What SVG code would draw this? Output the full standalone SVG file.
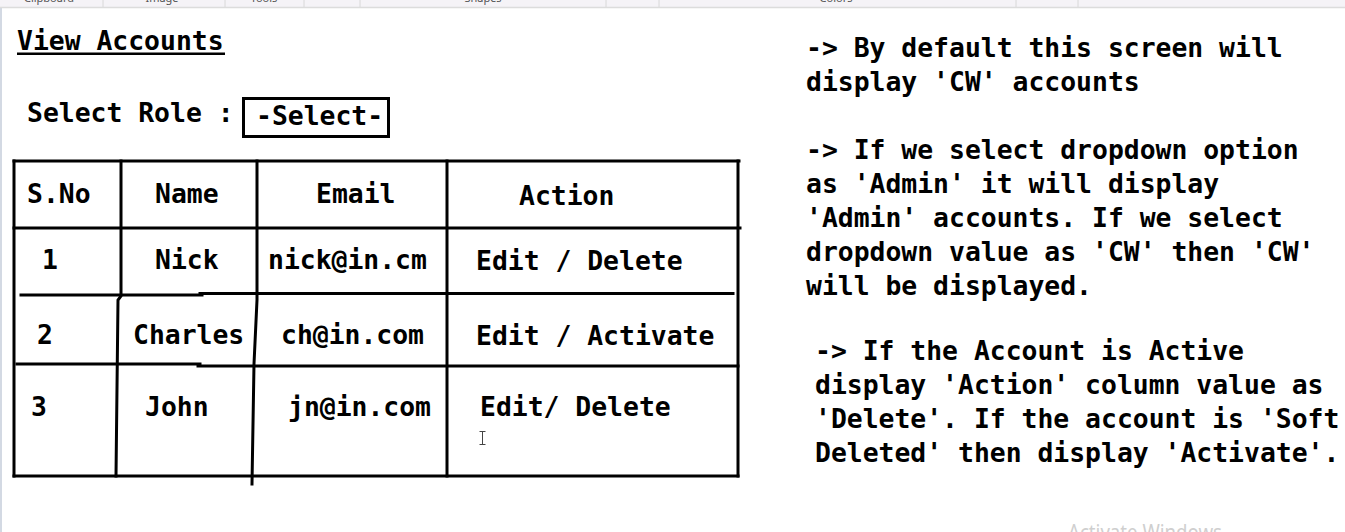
<svg xmlns="http://www.w3.org/2000/svg" width="1345" height="532" viewBox="0 0 1345 532">
  <style>
    .t { font-family: "DejaVu Sans Mono", "Liberation Mono", monospace; font-weight: bold; font-size: 26.4px; fill: #000; }
    .grid { fill: none; stroke: #000; stroke-width: 3; stroke-linecap: square; }
    .ribbon { font-family: "Noto Sans", "Liberation Sans", sans-serif; font-size: 11px; fill: #555; text-anchor: middle; }
    .sep { stroke: #d8d8d8; stroke-width: 1; }
  </style>

  <!-- canvas -->
  <rect x="0" y="0" width="1345" height="532" fill="#ffffff"/>

  <!-- ribbon strip along the top edge -->
  <g id="ribbon">
    <rect x="0" y="0" width="1345" height="7" fill="#f5f3f7"/>
    <line x1="0" y1="7.5" x2="1345" y2="7.5" stroke="#dcdcdc" stroke-width="1.5"/>
    <line class="sep" x1="103" y1="0" x2="103" y2="7"/>
    <line class="sep" x1="225" y1="0" x2="225" y2="7"/>
    <line class="sep" x1="304" y1="0" x2="304" y2="7"/>
    <line class="sep" x1="360" y1="0" x2="360" y2="7"/>
    <line class="sep" x1="606" y1="0" x2="606" y2="7"/>
    <line class="sep" x1="659" y1="0" x2="659" y2="7"/>
    <line class="sep" x1="1016" y1="0" x2="1016" y2="7"/>
    <line class="sep" x1="1078" y1="0" x2="1078" y2="7"/>
    <text class="ribbon" x="49" y="2">Clipboard</text>
    <text class="ribbon" x="162" y="2">Image</text>
    <text class="ribbon" x="264" y="2">Tools</text>
    <text class="ribbon" x="483" y="2">Shapes</text>
    <text class="ribbon" x="836" y="2">Colors</text>
  </g>
  <line x1="1" y1="8" x2="1" y2="532" stroke="#d3d9e3" stroke-width="2"/>

  <!-- page title -->
  <g id="title">
    <text class="t" x="17" y="50">View Accounts</text>
    <rect x="17" y="52.5" width="208" height="2.5" fill="#000"/>
  </g>

  <!-- role dropdown -->
  <g id="role-select">
    <text class="t" x="27" y="122">Select Role :</text>
    <rect x="243.5" y="98.5" width="145" height="38" fill="none" stroke="#000" stroke-width="3"/>
    <text class="t" x="256" y="125">-Select-</text>
  </g>

  <!-- accounts table -->
  <g id="accounts-table">
    <g id="table-grid">
      <path class="grid" d="M14 161 H739"/>
      <path class="grid" d="M14 161 V476"/>
      <path class="grid" d="M738 161 V476"/>
      <path class="grid" d="M14 476 H738"/>
      <path class="grid" d="M14 228 H740"/>
      <path class="grid" d="M21 295 H202 M200 293.5 H733"/>
      <path class="grid" d="M17 364 H200 M198 366 H738"/>
      <path class="grid" d="M121 161 V296 L118 300 L116 476"/>
      <path class="grid" d="M257 161 V300 L254 364 L252 484"/>
      <path class="grid" d="M447 161 V476"/>
    </g>
    <g id="header-row">
      <text class="t" x="27" y="203">S.No</text>
      <text class="t" x="155" y="203">Name</text>
      <text class="t" x="316" y="203">Email</text>
      <text class="t" x="519" y="205">Action</text>
    </g>
    <g id="row-1">
      <text class="t" x="42" y="269">1</text>
      <text class="t" x="155" y="269">Nick</text>
      <text class="t" x="268" y="269">nick@in.cm</text>
      <text class="t" x="476" y="270">Edit / Delete</text>
    </g>
    <g id="row-2">
      <text class="t" x="37" y="344">2</text>
      <text class="t" x="133" y="344">Charles</text>
      <text class="t" x="281" y="344">ch@in.com</text>
      <text class="t" x="476" y="345">Edit / Activate</text>
    </g>
    <g id="row-3">
      <text class="t" x="31" y="416">3</text>
      <text class="t" x="145" y="416">John</text>
      <text class="t" x="288" y="416">jn@in.com</text>
      <text class="t" x="480" y="416">Edit/ Delete</text>
    </g>
    <!-- text cursor -->
    <path d="M479.5 431.5 H485.5 M482.5 431.5 V444.5 M479.5 444.5 H485.5" fill="none" stroke="#444" stroke-width="1"/>
  </g>

  <!-- behaviour notes -->
  <g id="note-default">
    <text class="t" x="806" y="57">-&gt; By default this screen will</text>
    <text class="t" x="806" y="91">display 'CW' accounts</text>
  </g>
  <g id="note-dropdown">
    <text class="t" x="806" y="159">-&gt; If we select dropdown option</text>
    <text class="t" x="806" y="193">as 'Admin' it will display</text>
    <text class="t" x="806" y="227">'Admin' accounts. If we select</text>
    <text class="t" x="806" y="261">dropdown value as 'CW' then 'CW'</text>
    <text class="t" x="806" y="295">will be displayed.</text>
  </g>
  <g id="note-action">
    <text class="t" x="815" y="360">-&gt; If the Account is Active</text>
    <text class="t" x="815" y="394">display 'Action' column value as</text>
    <text class="t" x="815" y="428">'Delete'. If the account is 'Soft</text>
    <text class="t" x="815" y="462">Deleted' then display 'Activate'.</text>
  </g>

  <!-- OS watermark at the bottom edge -->
  <text x="1068" y="540" font-family="'Noto Sans', 'Open Sans', sans-serif" font-size="21" fill="#cfcfcf" textLength="154" lengthAdjust="spacingAndGlyphs">Activate Windows</text>
</svg>
